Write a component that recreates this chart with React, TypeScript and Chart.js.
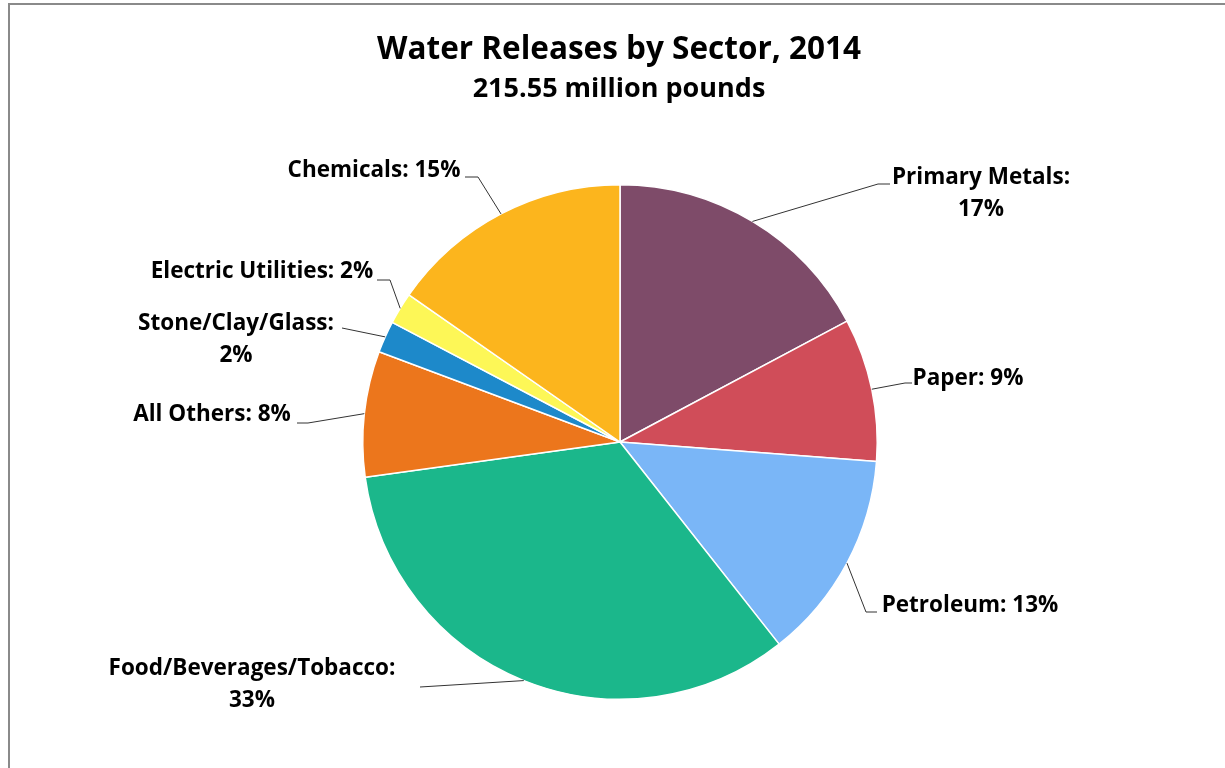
import { useEffect, useRef } from "react";
import { Chart, registerables } from "chart.js";

Chart.register(...registerables);

// Water releases by industry sector, 2014 (million pounds)
const sectors = [
  "Primary Metals",
  "Paper",
  "Petroleum",
  "Food/Beverages/Tobacco",
  "All Others",
  "Stone/Clay/Glass",
  "Electric Utilities",
  "Chemicals",
];
const releases = [37.1, 19.4, 28.4, 72.05, 17.0, 4.3, 4.3, 33.0];
const sliceColors = [
  "#7E4B69",
  "#D04D59",
  "#7AB6F7",
  "#1BB78B",
  "#EC761C",
  "#1D89CA",
  "#FDF757",
  "#FCB51D",
];
const chartTitle = "Water Releases by Sector, 2014";
const unitLabel = "million pounds";

// Where each slice label sits and the bend points of its leader line.
type LabelPlace = {
  x: number;
  y: number;
  wrap: boolean;
  leader: [number, number][];
};
const labelPlaces: LabelPlace[] = [
  { x: 981, y: 178, wrap: true, leader: [[878, 184], [890, 184]] },
  { x: 968, y: 379, wrap: false, leader: [[905, 383], [912, 383]] },
  { x: 970, y: 606, wrap: false, leader: [[866, 612], [877, 612]] },
  { x: 252, y: 669, wrap: true, leader: [[420, 687]] },
  { x: 212, y: 415, wrap: false, leader: [[308, 423], [297, 423]] },
  { x: 236, y: 324, wrap: true, leader: [[342, 328]] },
  { x: 262, y: 272, wrap: false, leader: [[390, 280], [377, 280]] },
  { x: 374, y: 171, wrap: false, leader: [[478, 177], [465, 177]] },
];

const FONT = "'Open Sans', sans-serif";
const WIDTH = 1225;
const HEIGHT = 768;

const annotations = {
  id: "pieAnnotations",
  afterDraw(chart: Chart) {
    const ctx = chart.ctx;
    const values = chart.data.datasets[0].data as number[];
    const total = values.reduce((a, b) => a + b, 0);
    const meta = chart.getDatasetMeta(0);

    ctx.save();

    // frame
    ctx.strokeStyle = "#8A8A8A";
    ctx.lineWidth = 2;
    ctx.beginPath();
    ctx.moveTo(9, HEIGHT);
    ctx.lineTo(9, 4);
    ctx.lineTo(WIDTH, 4);
    ctx.stroke();

    // titles
    ctx.fillStyle = "#000000";
    ctx.textAlign = "center";
    ctx.textBaseline = "alphabetic";
    ctx.font = `bold 31.5px ${FONT}`;
    ctx.fillText(chartTitle, 619, 59);
    ctx.font = `bold 27px ${FONT}`;
    ctx.fillText(`${total.toFixed(2)} ${unitLabel}`, 619, 97);

    // leader lines
    ctx.strokeStyle = "#333333";
    ctx.lineWidth = 1;
    meta.data.forEach((el: any, i: number) => {
      const p = el.getProps(["x", "y", "startAngle", "endAngle", "outerRadius"], true);
      const mid = (p.startAngle + p.endAngle) / 2;
      const ex = p.x + Math.cos(mid) * p.outerRadius;
      const ey = p.y + Math.sin(mid) * p.outerRadius;
      const place = labelPlaces[i];
      ctx.beginPath();
      ctx.moveTo(ex, ey);
      place.leader.forEach(([lx, ly]) => ctx.lineTo(lx, ly));
      ctx.stroke();
    });

    // slice labels
    ctx.font = `bold 22.5px ${FONT}`;
    ctx.textBaseline = "middle";
    ctx.fillStyle = "#000000";
    values.forEach((v, i) => {
      const place = labelPlaces[i];
      const pct = `${Math.round((v / total) * 100)}%`;
      const name = `${chart.data.labels![i]}:`;
      if (place.wrap) {
        ctx.fillText(name, place.x, place.y);
        ctx.fillText(pct, place.x, place.y + 32);
      } else {
        ctx.fillText(`${name} ${pct}`, place.x, place.y);
      }
    });

    ctx.restore();
  },
};

export default function App() {
  const canvasRef = useRef<HTMLCanvasElement | null>(null);

  useEffect(() => {
    const canvas = canvasRef.current;
    if (!canvas) return;
    const chart = new Chart(canvas, {
      type: "pie",
      data: {
        labels: sectors,
        datasets: [
          {
            data: releases,
            backgroundColor: sliceColors,
            borderColor: "#FFFFFF",
            borderWidth: 1.5,
            hoverOffset: 0,
          },
        ],
      },
      options: {
        responsive: false,
        animation: false,
        events: [],
        layout: { padding: { top: 184, bottom: 68, left: 362, right: 347 } },
        plugins: {
          legend: { display: false },
          tooltip: { enabled: false },
          title: { display: false },
        },
      },
      plugins: [annotations],
    });
    return () => chart.destroy();
  }, []);

  return (
    <div style={{ position: "fixed", left: 0, top: 0, width: WIDTH, height: HEIGHT, background: "#FFFFFF" }}>
      <canvas ref={canvasRef} width={WIDTH} height={HEIGHT} style={{ display: "block", width: WIDTH, height: HEIGHT }} />
    </div>
  );
}
